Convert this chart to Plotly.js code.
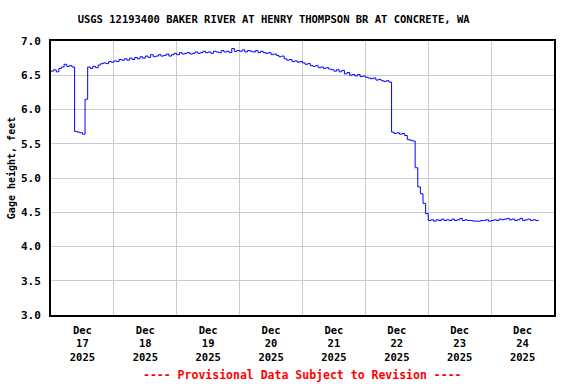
<!DOCTYPE html>
<html>
<head>
<meta charset="utf-8">
<script src="https://cdn.plot.ly/plotly-3.0.1.min.js"></script>
<style>html,body{margin:0;padding:0;background:#fff;}</style>
</head>
<body>
<div id="chart" style="width:576px;height:384px;"></div>
<script>
// Series start time and sampling step (hourly readings)
const startTime = "2025-12-17T00:00:00";
const stepHours = 1;
// Gage height, feet (one value per hour)
const gageHeight = [
  6.56, 6.58, 6.55, 6.60, 6.62, 6.66, 6.63, 6.64, 6.62, 5.68, 5.67, 5.66, 5.64, 6.15, 6.62, 6.60,
  6.63, 6.61, 6.65, 6.67, 6.68, 6.67, 6.70, 6.69,
  6.71, 6.70, 6.73, 6.72, 6.74, 6.72, 6.75, 6.73, 6.76, 6.74, 6.77, 6.75, 6.78, 6.76, 6.80, 6.77,
  6.78, 6.80, 6.78, 6.79, 6.81, 6.78, 6.80, 6.82,
  6.80, 6.83, 6.81, 6.82, 6.83, 6.81, 6.82, 6.84, 6.82, 6.83, 6.85, 6.83, 6.84, 6.82, 6.85, 6.84,
  6.83, 6.86, 6.84, 6.85, 6.83, 6.89, 6.85, 6.86,
  6.85, 6.87, 6.84, 6.86, 6.85, 6.84, 6.86, 6.83, 6.85, 6.83, 6.82, 6.83, 6.80, 6.81, 6.79, 6.77,
  6.78, 6.74, 6.72, 6.73, 6.70, 6.71, 6.69, 6.70,
  6.68, 6.66, 6.67, 6.64, 6.63, 6.64, 6.61, 6.62, 6.60, 6.61, 6.59, 6.58, 6.56, 6.58, 6.55, 6.57,
  6.52, 6.54, 6.50, 6.51, 6.49, 6.51, 6.48, 6.49,
  6.47, 6.46, 6.45, 6.46, 6.43, 6.44, 6.42, 6.41, 6.42, 6.40, 5.67, 5.65, 5.66, 5.64, 5.65, 5.62,
  5.56, 5.55, 5.54, 5.15, 4.87, 4.77, 4.63, 4.48,
  4.38, 4.39, 4.37, 4.39, 4.38, 4.40, 4.38, 4.39, 4.38, 4.40, 4.38, 4.39, 4.41, 4.38, 4.39, 4.38,
  4.38, 4.37, 4.37, 4.37, 4.38, 4.38, 4.39, 4.37,
  4.38, 4.39, 4.38, 4.40, 4.39, 4.40, 4.41, 4.39, 4.40, 4.38, 4.39, 4.41, 4.38, 4.39, 4.40, 4.38,
  4.39, 4.38, 4.37
];
const yTicks = [3.0, 3.5, 4.0, 4.5, 5.0, 5.5, 6.0, 6.5, 7.0];
const xRange = ["2025-12-17 00:00", "2025-12-25 00:00"];
const titleText = "USGS 12193400 BAKER RIVER AT HENRY THOMPSON BR AT CONCRETE, WA";
const yTitle = "Gage height, feet";
const footer = "---- Provisional Data Subject to Revision ----";

const t0 = new Date(startTime + "Z").getTime();
function fmt(ms) {
  const d = new Date(ms);
  const p = n => String(n).padStart(2, "0");
  return d.getUTCFullYear() + "-" + p(d.getUTCMonth() + 1) + "-" + p(d.getUTCDate()) + " " +
         p(d.getUTCHours()) + ":" + p(d.getUTCMinutes());
}
const times = gageHeight.map((_, i) => fmt(t0 + i * stepHours * 3600000));

const font = {family: "DejaVu Sans Mono", size: 11, color: "#000", weight: "bold"};

Plotly.newPlot("chart", [{
  x: times, y: gageHeight, type: "scatter", mode: "lines",
  line: {color: "#0000ff", width: 1, shape: "hv"}, hoverinfo: "skip"
}], {
  width: 576, height: 384,
  margin: {l: 51, r: 22, t: 41, b: 69},
  paper_bgcolor: "#fff", plot_bgcolor: "#fff",
  showlegend: false,
  font: font,
  title: {text: titleText, font: {family: "DejaVu Sans Mono", size: 10.5, weight: "bold", color: "#000"},
          xref: "container", x: 0.475, xanchor: "center", yref: "container", y: 0.95, yanchor: "middle"},
  xaxis: {
    type: "date", range: xRange, dtick: 86400000, tick0: "2025-12-17",
    ticklabelmode: "period", tickformat: "%b<br>%d<br>%Y",
    showgrid: true, gridcolor: "#cccccc", gridwidth: 1,
    showline: true, linecolor: "#000", linewidth: 2, mirror: true,
    ticks: "", zeroline: false, tickfont: {family: "DejaVu Sans Mono", size: 10.5, color: "#000", weight: "bold"},
    ticklabelstandoff: 4
  },
  yaxis: {
    range: [3, 7], tickvals: yTicks, ticktext: yTicks.map(v => v.toFixed(1)),
    showgrid: true, gridcolor: "#cccccc", gridwidth: 1,
    showline: true, linecolor: "#000", linewidth: 2, mirror: true,
    ticks: "", zeroline: false, tickfont: font, ticklabelstandoff: 6
  },
  annotations: [{
    text: footer, xref: "paper", yref: "paper", x: 0.5, y: -0.22,
    xanchor: "center", yanchor: "middle", showarrow: false,
    font: {family: "DejaVu Sans Mono", size: 11.5, weight: "bold", color: "#ff0000"}
  }, {
    text: yTitle, xref: "paper", yref: "paper", x: -0.0795, y: 0.536,
    xanchor: "center", yanchor: "middle", showarrow: false, textangle: -90,
    font: {family: "DejaVu Sans Mono", size: 10, weight: "bold", color: "#000"}
  }]
}, {staticPlot: true});
</script>
</body>
</html>
